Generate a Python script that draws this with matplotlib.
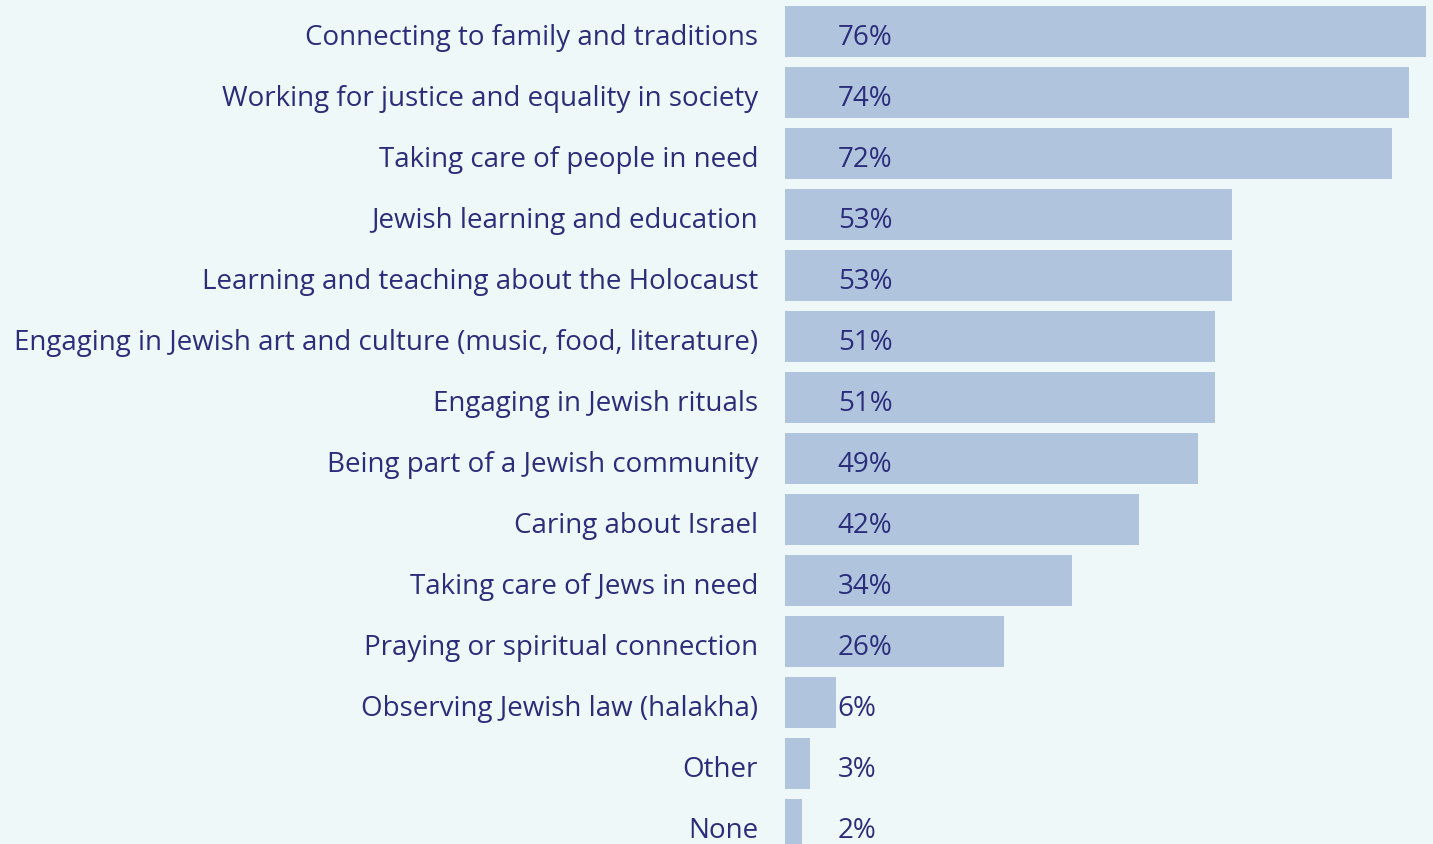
import matplotlib.pyplot as plt

# data
labels = [
    "Connecting to family and traditions",
    "Working for justice and equality in society",
    "Taking care of people in need",
    "Jewish learning and education",
    "Learning and teaching about the Holocaust",
    "Engaging in Jewish art and culture (music, food, literature)",
    "Engaging in Jewish rituals",
    "Being part of a Jewish community",
    "Caring about Israel",
    "Taking care of Jews in need",
    "Praying or spiritual connection",
    "Observing Jewish law (halakha)",
    "Other",
    "None",
]
values = [76, 74, 72, 53, 53, 51, 51, 49, 42, 34, 26, 6, 3, 2]

bg = "#EEF8F8"
bar_color = "#B0C4DE"
text_color = "#2B2D7A"

W, H = 1433, 844
fig = plt.figure(figsize=(W / 100, H / 100), dpi=100, facecolor=bg)
ax = fig.add_axes([785 / W, 0, (1426 - 785) / W, 1])
ax.set_facecolor(bg)

pos = list(range(len(labels)))
ax.barh(pos, values, height=0.85, color=bar_color)
ax.set_xlim(0, 76)
ax.set_ylim(13.32, -0.516)

for i, (lab, v) in enumerate(zip(labels, values)):
    ax.text(-3.2, i + 0.1, lab, ha="right", va="center", fontsize=20,
            color=text_color, family="Open Sans")
    ax.text(6.25, i + 0.1, f"{v}%", ha="left", va="center", fontsize=20,
            color=text_color, family="Open Sans")

ax.axis("off")
fig.savefig("out.png", dpi=100, facecolor=bg)
